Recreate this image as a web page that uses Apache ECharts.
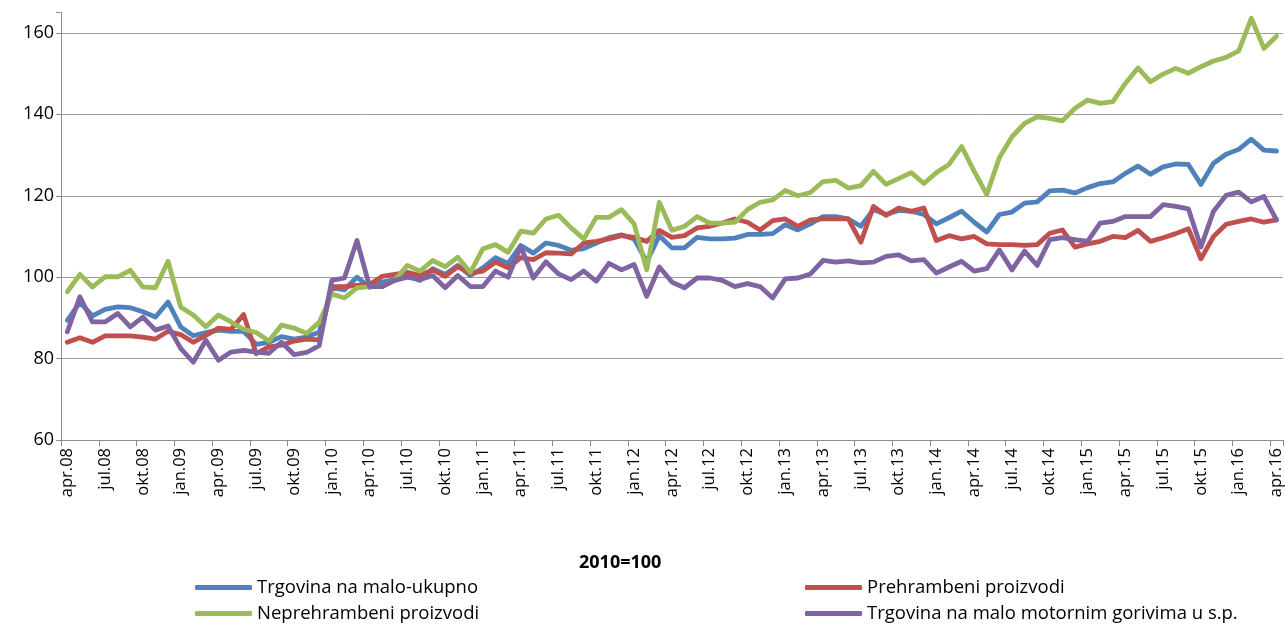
<!DOCTYPE html>
<html>
<head>
<meta charset="utf-8">
<script src="https://cdn.jsdelivr.net/npm/echarts@6/dist/echarts.min.js"></script>
<style>
html,body{margin:0;padding:0;background:#fff;}
#c{width:1285px;height:628px;}
</style>
</head>
<body>
<div id="c"></div>
<script>
// Month names and range (apr.08 .. apr.16)
const monthNames = ['jan','feb','mar','apr','maj','jun','jul','avg','sep','okt','nov','dec'];
const categories = [];
for (let y = 2008; y <= 2016; y++) {
  for (let m = 0; m < 12; m++) {
    if (y === 2008 && m < 3) continue;
    if (y === 2016 && m > 3) continue;
    categories.push(monthNames[m] + '.' + String(y).slice(2));
  }
}

const seriesNames = [
  'Trgovina na malo-ukupno',
  'Prehrambeni proizvodi',
  'Neprehrambeni proizvodi',
  'Trgovina na malo motornim gorivima u s.p.'
];

const ukupno = [89.4,93.8,90.5,92.1,92.7,92.5,91.5,90.2,93.9,87.8,85.6,86.4,87,86.7,86.7,83.5,84,85.4,84.8,85.3,86.5,97.5,96.9,100,97.5,98.8,99.4,100.4,99.2,102.1,100.7,102.9,100.4,102.3,104.8,103.4,107.8,105.9,108.4,107.8,106.6,107,108.4,109.7,110.4,109.4,103.8,110.2,107.2,107.2,109.8,109.4,109.4,109.6,110.5,110.5,110.7,112.9,111.6,113.1,114.9,114.9,114.3,112.5,116.6,115.4,116.4,116.2,115.4,113.1,114.6,116.2,113.5,111.1,115.4,116,118.2,118.5,121.2,121.4,120.7,122,123,123.4,125.5,127.3,125.3,127.1,127.8,127.7,122.8,128,130.2,131.4,133.9,131.2,131];

const prehrambeni = [84,85.1,84,85.6,85.6,85.6,85.3,84.8,86.7,85.9,84,85.7,87.5,87.2,90.8,81.2,82.9,83.3,84.3,84.8,84.6,97.7,97.7,98,98.2,100.2,100.7,101.2,100.4,101.8,100.2,102.6,101,101.5,103.7,102.3,104.8,104.3,106,105.9,105.7,108.4,108.8,109.4,110.2,109.8,108.8,111.5,109.8,110.2,112.1,112.5,113.3,114.3,113.5,111.6,113.9,114.3,112.5,114.1,114.3,114.3,114.3,108.6,117.4,115.2,117,116.2,117,109,110.2,109.4,110,108.2,108,108,107.8,108,110.8,111.6,107.4,108.2,108.8,110,109.7,111.5,108.8,109.7,110.7,111.9,104.5,110,113,113.7,114.3,113.5,114.1];

const neprehrambeni = [96.4,100.7,97.6,100.1,100.1,101.7,97.6,97.4,103.9,92.7,90.7,87.8,90.7,89,87.2,86.4,84.3,88.2,87.5,86.2,88.9,95.9,94.9,97.4,97.7,97.7,99.2,102.9,101.5,104.1,102.6,104.9,101.2,107,108,106.1,111.3,110.8,114.3,115.2,112.1,109.4,114.7,114.7,116.6,113.1,101.8,118.4,111.5,112.5,114.9,113.3,113.3,113.5,116.6,118.4,119,121.3,120,120.8,123.5,123.8,121.9,122.5,126,122.8,124.2,125.7,123,125.7,127.7,132.1,126,120.3,129.4,134.5,137.8,139.4,139,138.4,141.5,143.5,142.7,143.1,147.6,151.4,148,149.9,151.3,150.1,151.7,153.1,154,155.6,163.6,156.2,159.2];

const gorivima = [86.6,95.2,89,89,91.1,87.8,90.2,87,88,82.5,79.1,84.5,79.6,81.6,82,81.6,81.3,84,81,81.5,83.2,99.2,99.8,109,97.7,97.7,99.2,100,99.4,100.4,97.4,100.4,97.7,97.7,101.5,100,107.5,99.8,103.8,100.8,99.4,101.5,99,103.4,101.8,103.1,95.3,102.5,98.8,97.4,99.8,99.8,99.2,97.7,98.4,97.7,94.9,99.6,99.8,100.8,104.1,103.7,104,103.5,103.7,105.1,105.5,104,104.3,101,102.5,103.9,101.5,102.1,106.7,101.8,106.4,102.9,109.2,109.7,109.2,108.8,113.3,113.7,114.9,114.9,114.9,117.8,117.4,116.8,107.4,116.2,120.1,120.9,118.5,119.8,114.1];

const yTicks = [60, 80, 100, 120, 140, 160];
const colors = ['#4F81BD', '#C0504D', '#9BBB59', '#8064A2'];
const fontFam = "'Open Sans',sans-serif";

const chart = echarts.init(document.getElementById('c'), null, {renderer: 'canvas'});

function mkSeries(name, data, color) {
  return {
    name: name, type: 'line', data: data, symbol: 'none',
    lineStyle: {color: color, width: 4.8, cap: 'round', join: 'round'},
    itemStyle: {color: color},
    emphasis: {disabled: true}, animation: false
  };
}

const legendText = {fontFamily: fontFam, fontSize: 18.5, color: '#000'};

chart.setOption({
  animation: false,
  color: colors,
  title: {
    text: '2010=100', left: 574, top: 549,
    textStyle: {fontFamily: fontFam, fontSize: 18, fontWeight: 'bold', color: '#000'}
  },
  legend: [
    {
      data: [seriesNames[0], seriesNames[2]], orient: 'vertical',
      left: 190, top: 573, itemWidth: 57, itemHeight: 5, itemGap: 7, icon: 'roundRect',
      textStyle: legendText
    },
    {
      data: [seriesNames[1], seriesNames[3]], orient: 'vertical',
      left: 800, top: 573, itemWidth: 57, itemHeight: 5, itemGap: 7, icon: 'roundRect',
      textStyle: legendText
    }
  ],
  grid: {left: 61, right: 0, top: 12.6, bottom: 188, containLabel: false},
  xAxis: {
    type: 'category', data: categories, boundaryGap: true,
    axisLine: {lineStyle: {color: '#8c8c8c', width: 1}},
    axisTick: {show: true, interval: 2, length: 6, lineStyle: {color: '#8c8c8c'}},
    axisLabel: {interval: 2, rotate: 90, margin: 8, fontFamily: fontFam, fontSize: 16.5, color: '#000'},
    splitLine: {show: false}
  },
  yAxis: {
    type: 'value', min: 60, max: 165, interval: 20,
    axisLine: {show: true, lineStyle: {color: '#8c8c8c', width: 1}},
    axisTick: {show: true, length: 5, lineStyle: {color: '#8c8c8c'}},
    axisLabel: {
      margin: 7, fontFamily: fontFam, fontSize: 18, color: '#000',
      formatter: function (v) { return yTicks.indexOf(v) >= 0 ? String(v) : ''; }
    },
    splitLine: {show: true, lineStyle: {color: ['#9a9a9a','#9a9a9a','#9a9a9a','#9a9a9a','#9a9a9a','#9a9a9a','rgba(0,0,0,0)'], width: 1}}
  },
  series: [
    mkSeries(seriesNames[0], ukupno, colors[0]),
    mkSeries(seriesNames[1], prehrambeni, colors[1]),
    mkSeries(seriesNames[2], neprehrambeni, colors[2]),
    mkSeries(seriesNames[3], gorivima, colors[3])
  ]
});
</script>
</body>
</html>
